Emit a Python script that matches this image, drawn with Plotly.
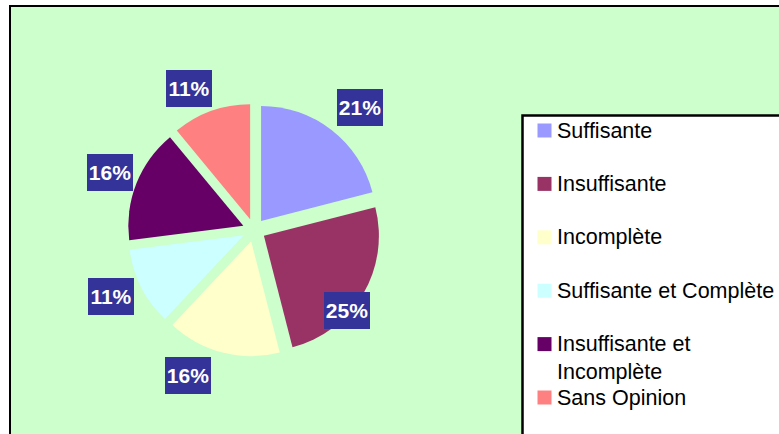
import math
import plotly.graph_objects as go

# ---- data ----
categories = ["Suffisante", "Insuffisante", "Incomplète", "Suffisante et Complète",
              "Insuffisante et Incomplète", "Sans Opinion"]
legend_labels = ["Suffisante", "Insuffisante", "Incomplète", "Suffisante et Complète",
                 "Insuffisante et<br>Incomplète", "Sans Opinion"]
values = [21, 25, 16, 11, 16, 11]
colors = ["#9999FF", "#993366", "#FFFFCC", "#CCFFFF", "#660066", "#FF8080"]

# ---- layout constants (pixels) ----
W, H = 779, 434
CX, CY = 254, 230          # pie centre
R = 115                    # pie radius
PULL = 0.1
half = R * (1 + PULL)

# label placement style (radial distance in px, angular nudge in degrees)
label_dist = [162, 123, 160, 158, 155, 156]
label_nudge = [3, 10, 10, 2, 0, -5]

FONT = "Liberation Sans, Arial, sans-serif"

def px(x):
    return x / W

def py(y):
    return 1 - y / H

fig = go.Figure(go.Pie(
    labels=categories,
    values=values,
    marker=dict(colors=colors, line=dict(width=0)),
    pull=[PULL] * len(values),
    sort=False,
    direction="clockwise",
    rotation=0,
    textinfo="none",
    hoverinfo="label+percent",
    showlegend=False,
    domain=dict(x=[px(CX - half), px(CX + half)], y=[py(CY + half), py(CY - half)]),
))

shapes = []
annotations = []

# chart frame (green area with black border, cut off at right/bottom)
shapes.append(dict(type="rect", xref="paper", yref="paper", layer="below",
                   x0=px(10), x1=px(W + 20), y0=py(6), y1=py(H + 20),
                   fillcolor="#CCFFCC", line=dict(color="black", width=2)))

# data labels
total = sum(values)
cum = 0
for v, d, n in zip(values, label_dist, label_nudge):
    mid = (cum + v / 2) / total * 360 + n
    cum += v
    a = math.radians(mid)
    lx = CX + d * math.sin(a)
    ly = CY - d * math.cos(a)
    annotations.append(dict(
        xref="paper", yref="paper", x=px(lx), y=py(ly),
        xanchor="center", yanchor="middle", showarrow=False,
        text=f"<b>{round(v / total * 100)}%</b>",
        font=dict(family=FONT, size=21, color="white"),
        bgcolor="#333399", borderwidth=0, borderpad=0,
        width=46, height=37, valign="middle",
    ))

# manual legend
shapes.append(dict(type="rect", xref="paper", yref="paper", layer="above",
                   x0=px(522.5), x1=px(W + 20), y0=py(115.5), y1=py(H + 20),
                   fillcolor="white", line=dict(color="black", width=2.5)))
leg_y0, leg_step = 130.5, 53.4
for i, (lab, col) in enumerate(zip(legend_labels, colors)):
    yc = leg_y0 + i * leg_step
    shapes.append(dict(type="rect", xref="paper", yref="paper", layer="above",
                       x0=px(537.5), x1=px(551.5), y0=py(yc - 7), y1=py(yc + 7),
                       fillcolor=col, line=dict(width=0)))
    nlines = lab.count("<br>") + 1
    ty = yc + (nlines - 1) * 13.5
    annotations.append(dict(
        xref="paper", yref="paper", x=px(555), y=py(ty),
        xanchor="left", yanchor="middle", align="left", showarrow=False,
        text=lab, font=dict(family=FONT, size=21.5, color="black"),
    ))

fig.update_layout(
    width=W, height=H,
    margin=dict(l=0, r=0, t=0, b=0),
    paper_bgcolor="white",
    plot_bgcolor="white",
    shapes=shapes,
    annotations=annotations,
)

fig.write_html(
    "out.html",
    config={"displayModeBar": False},
    post_script="document.body.style.margin='0';document.body.style.overflow='hidden';",
)
